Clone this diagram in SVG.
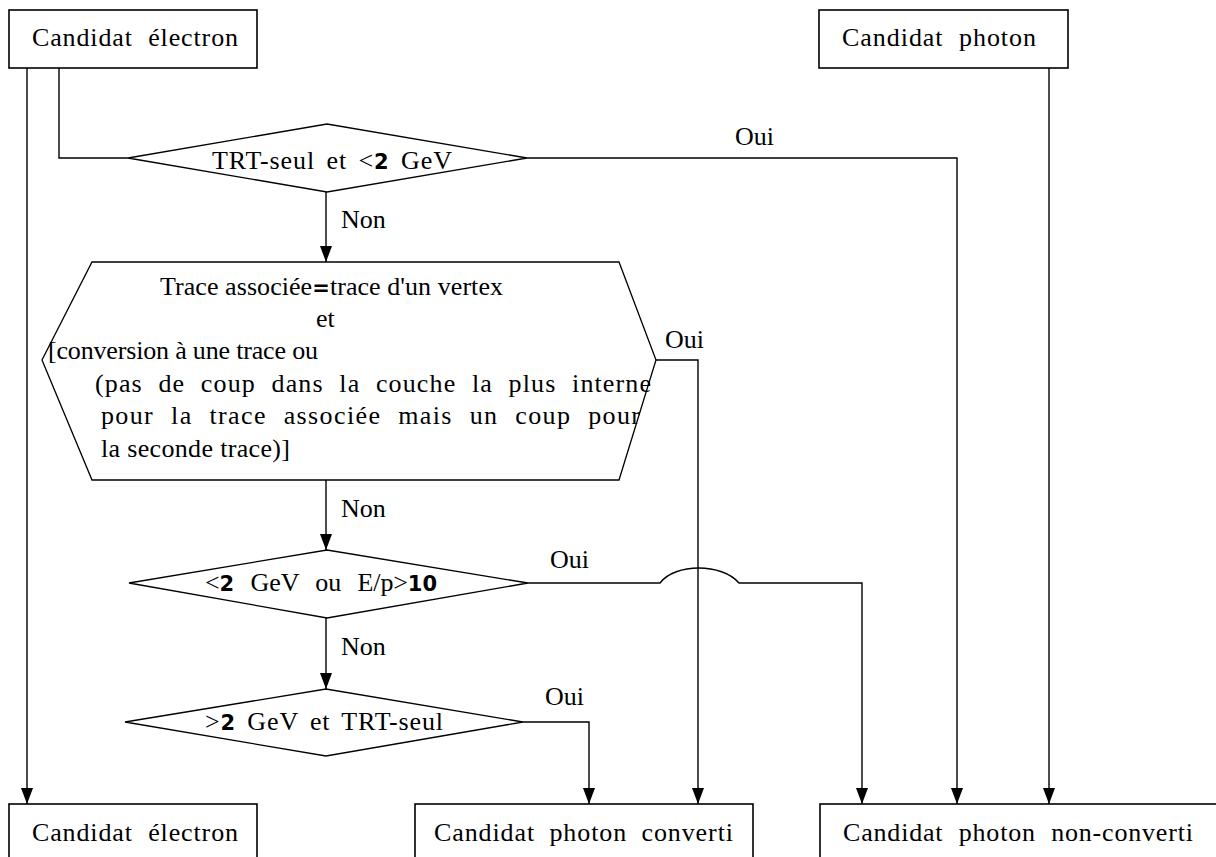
<svg xmlns="http://www.w3.org/2000/svg" width="1216" height="857" viewBox="0 0 1216 857">
<style>
.box{fill:#fff;stroke:#000;stroke-width:1.6}
.shape{fill:#fff;stroke:#000;stroke-width:1.3}
.c{fill:none;stroke:#000;stroke-width:1.4}
text{font-family:"Liberation Serif","DejaVu Serif",serif;font-size:26px;fill:#000}
.b{font-family:"DejaVu Sans","Liberation Sans",sans-serif;font-weight:bold;font-size:21px}
</style>
<defs>
<marker id="ah" markerUnits="userSpaceOnUse" markerWidth="16" markerHeight="12" refX="16" refY="6" orient="auto">
<path d="M0,0 L16,6 L0,12 z" fill="#000"/>
</marker>
</defs>
<rect width="1216" height="857" fill="#fff"/>
<g id="connectors">
<line class="c" x1="27" y1="68" x2="27" y2="804" marker-end="url(#ah)"/>
<polyline class="c" points="59,68 59,158 128,158"/>
<polyline class="c" points="527,158 957,158 957,804" marker-end="url(#ah)"/>
<line class="c" x1="326" y1="192" x2="326" y2="262" marker-end="url(#ah)"/>
<polyline class="c" points="656,360 698,360 698,804" marker-end="url(#ah)"/>
<line class="c" x1="326" y1="480" x2="326" y2="550" marker-end="url(#ah)"/>
<path class="c" d="M528,583 L660,583 C675,563 722,563 739,583 L862,583 L862,804" marker-end="url(#ah)"/>
<line class="c" x1="326" y1="618" x2="326" y2="689" marker-end="url(#ah)"/>
<polyline class="c" points="523,722 589,722 589,804" marker-end="url(#ah)"/>
<line class="c" x1="1049" y1="68" x2="1049" y2="804" marker-end="url(#ah)"/>
<text x="735" y="145">Oui</text>
<text x="341" y="228">Non</text>
<text x="665" y="348">Oui</text>
<text x="341" y="517">Non</text>
<text x="550" y="568">Oui</text>
<text x="341" y="655">Non</text>
<text x="545" y="705">Oui</text>
</g>
<g id="n-electron-in">
<rect class="box" x="9" y="10" width="248" height="58"/>
<text x="32" y="46" word-spacing="8" textLength="206" lengthAdjust="spacing">Candidat électron</text>
</g>
<g id="n-photon-in">
<rect class="box" x="819" y="10" width="249" height="58"/>
<text x="842" y="46" word-spacing="8" textLength="194" lengthAdjust="spacing">Candidat photon</text>
</g>
<g id="n-d1">
<polygon class="shape" points="128,158 327,124 527,158 327,192"/>
<text x="212" y="169" word-spacing="4" textLength="240" lengthAdjust="spacing">TRT-seul et &lt;<tspan class="b">2</tspan> GeV</text>
</g>
<g id="n-hex">
<polygon class="shape" points="92,262 619,262 656,360 619,480 92,480 42,360"/>
<text x="160" y="295" textLength="343" lengthAdjust="spacing">Trace associée<tspan class="b">=</tspan>trace d'un vertex</text>
<text x="316" y="327">et</text>
<text x="48" y="359" textLength="270" lengthAdjust="spacing">[conversion à une trace ou</text>
<text x="95" y="392" word-spacing="8" textLength="556" lengthAdjust="spacing">(pas de coup dans la couche la plus interne</text>
<text x="101" y="424" word-spacing="9" textLength="539" lengthAdjust="spacing">pour la trace associée mais un coup pour</text>
<text x="101" y="457" textLength="189" lengthAdjust="spacing">la seconde trace)]</text>
</g>
<g id="n-d2">
<polygon class="shape" points="129,583 327,550 528,583 327,618"/>
<text x="205" y="591" word-spacing="10" textLength="232" lengthAdjust="spacing">&lt;<tspan class="b">2</tspan> GeV ou E/p&gt;<tspan class="b">10</tspan></text>
</g>
<g id="n-d3">
<polygon class="shape" points="125,722 326,689 523,722 326,756"/>
<text x="205" y="730" word-spacing="4" textLength="238" lengthAdjust="spacing">&gt;<tspan class="b">2</tspan> GeV et TRT-seul</text>
</g>
<g id="n-electron-out">
<rect class="box" x="9" y="804" width="248" height="70"/>
<text x="32" y="841" word-spacing="8" textLength="206" lengthAdjust="spacing">Candidat électron</text>
</g>
<g id="n-photon-conv">
<rect class="box" x="415" y="804" width="338" height="70"/>
<text x="434" y="841" word-spacing="7" textLength="299" lengthAdjust="spacing">Candidat photon converti</text>
</g>
<g id="n-photon-nonconv">
<rect class="box" x="820" y="804" width="420" height="70"/>
<text x="843" y="841" word-spacing="8" textLength="350" lengthAdjust="spacing">Candidat photon non-converti</text>
</g>
</svg>
